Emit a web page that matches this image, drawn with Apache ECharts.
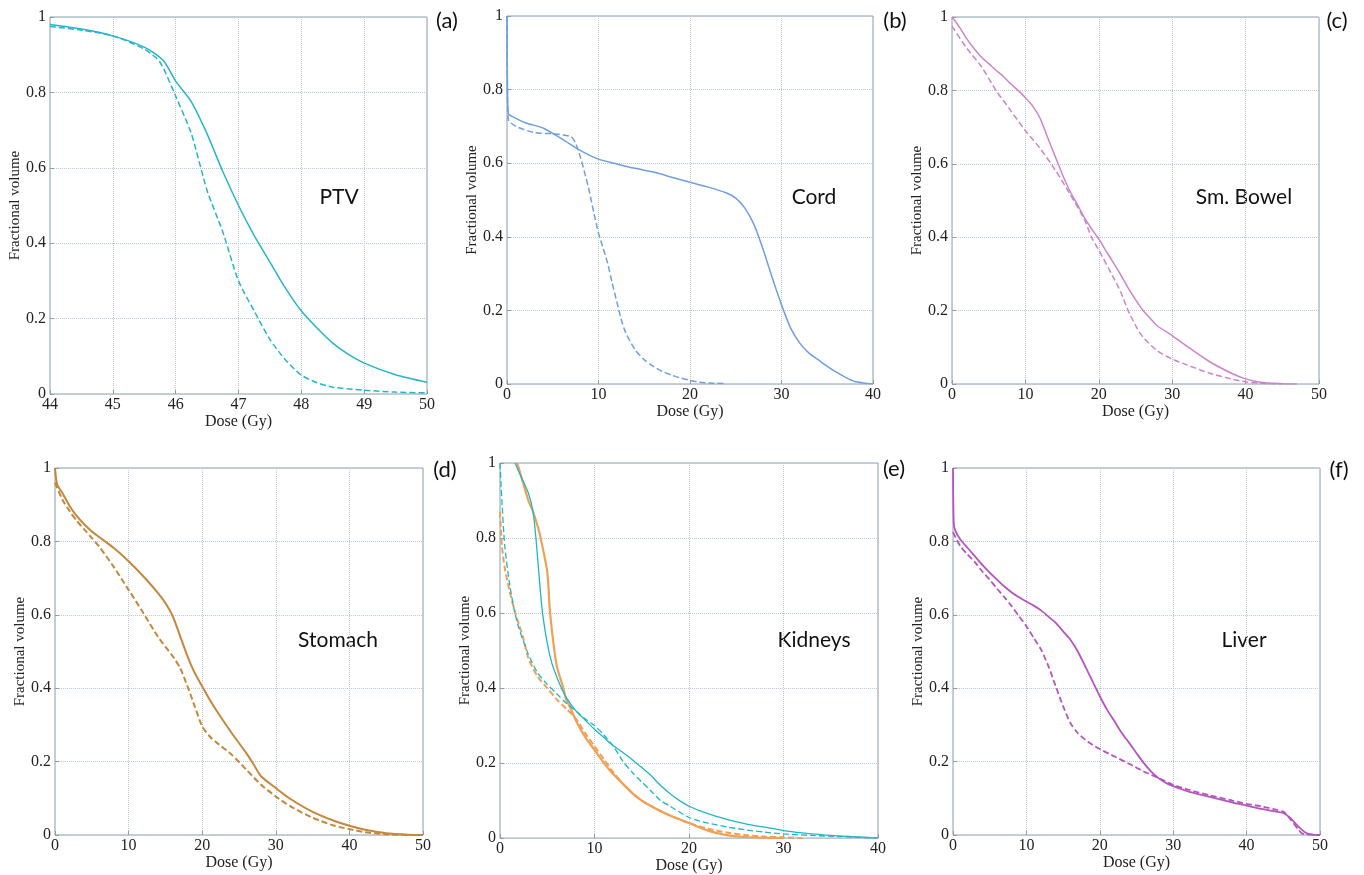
<!DOCTYPE html>
<html>
<head>
<meta charset="utf-8">
<script src="https://cdn.jsdelivr.net/npm/echarts@6/dist/echarts.min.js"></script>
<style>
html,body{margin:0;padding:0;background:#fff;}
#chart{width:1364px;height:875px;}
</style>
</head>
<body>
<div id="chart"></div>
<script>
// ---------------- DATA ----------------
// (a) PTV
var ptvSolidDose = [44, 44.5, 45, 45.5, 45.8, 46, 46.25, 46.5, 46.75, 47, 47.25, 47.5, 47.75, 48, 48.25, 48.5, 48.75, 49, 49.5, 50];
var ptvSolidVol  = [0.98, 0.968, 0.95, 0.92, 0.885, 0.83, 0.775, 0.69, 0.59, 0.50, 0.42, 0.35, 0.28, 0.22, 0.175, 0.135, 0.105, 0.082, 0.051, 0.031];
var ptvDashDose  = [44, 44.5, 45, 45.5, 45.75, 46, 46.25, 46.5, 46.75, 47, 47.25, 47.5, 47.75, 48, 48.25, 48.5, 49, 49.5, 50];
var ptvDashVol   = [0.975, 0.965, 0.95, 0.915, 0.88, 0.79, 0.69, 0.54, 0.43, 0.30, 0.22, 0.145, 0.09, 0.05, 0.03, 0.018, 0.01, 0.005, 0.003];

// (b) Cord
var cordSolidDose = [0, 0.05, 0.15, 0.5, 2, 4, 6, 8, 10, 12, 14, 16, 18, 20, 22, 24, 25, 26, 27, 28, 29, 30, 31, 32, 33, 34, 35, 36, 37, 38, 39, 40];
var cordSolidVol  = [1.0, 0.8, 0.735, 0.728, 0.71, 0.695, 0.666, 0.635, 0.611, 0.598, 0.586, 0.576, 0.562, 0.548, 0.535, 0.519, 0.505, 0.478, 0.433, 0.365, 0.288, 0.215, 0.152, 0.111, 0.084, 0.066, 0.048, 0.032, 0.018, 0.007, 0.003, 0.0];
var cordDashDose  = [0, 0.05, 0.15, 1, 3, 5, 7, 7.5, 8, 8.5, 9, 9.5, 10, 10.5, 11, 11.5, 12, 12.5, 13, 14, 15, 16, 17, 18, 19, 20, 21, 22, 24];
var cordDashVol   = [1.0, 0.78, 0.718, 0.70, 0.683, 0.68, 0.672, 0.654, 0.618, 0.573, 0.523, 0.464, 0.41, 0.37, 0.328, 0.274, 0.224, 0.174, 0.138, 0.093, 0.066, 0.048, 0.034, 0.024, 0.016, 0.01, 0.005, 0.003, 0.001];

// (c) Sm. Bowel
var bowelSolidDose = [0, 1, 2, 3, 4, 5, 6, 7, 8, 9, 10, 11, 12, 13, 14, 15, 16, 17, 18, 19, 20, 21, 22, 23, 24, 25, 26, 27, 28, 30, 32, 35, 38, 40, 42, 45, 47];
var bowelSolidVol  = [1.0, 0.973, 0.941, 0.914, 0.891, 0.873, 0.855, 0.838, 0.818, 0.80, 0.78, 0.757, 0.724, 0.673, 0.623, 0.573, 0.528, 0.492, 0.455, 0.423, 0.395, 0.362, 0.33, 0.297, 0.262, 0.23, 0.201, 0.179, 0.158, 0.132, 0.103, 0.062, 0.03, 0.014, 0.005, 0.001, 0.0];
var bowelDashDose  = [0, 2, 4, 6, 8, 10, 12, 14, 16, 18, 19, 20, 22, 23, 24, 25, 26, 28, 30, 32, 35, 38, 40, 42, 45];
var bowelDashVol   = [0.975, 0.915, 0.865, 0.80, 0.745, 0.69, 0.642, 0.585, 0.52, 0.45, 0.40, 0.365, 0.29, 0.25, 0.20, 0.16, 0.128, 0.09, 0.068, 0.052, 0.03, 0.014, 0.006, 0.002, 0.0];

// (d) Stomach
var stomachSolidDose = [0, 0.3, 1, 2, 3, 4, 5, 6, 8, 10, 12, 14, 15, 16, 17, 18, 19, 20, 21, 22, 24, 26, 27, 28, 30, 32, 35, 38, 40, 42, 45, 48, 50];
var stomachSolidVol  = [1.0, 0.955, 0.932, 0.896, 0.868, 0.846, 0.827, 0.812, 0.782, 0.746, 0.705, 0.659, 0.632, 0.596, 0.542, 0.487, 0.441, 0.405, 0.369, 0.337, 0.278, 0.223, 0.192, 0.16, 0.128, 0.098, 0.063, 0.038, 0.025, 0.015, 0.005, 0.001, 0.0];
var stomachDashDose  = [0, 1, 2, 3, 4, 5, 6, 8, 10, 12, 14, 16, 17, 18, 19, 20, 21, 22, 24, 26, 28, 30, 32, 35, 38, 40, 42, 45, 48];
var stomachDashVol   = [0.96, 0.914, 0.882, 0.855, 0.832, 0.809, 0.786, 0.73, 0.668, 0.605, 0.54, 0.487, 0.455, 0.405, 0.35, 0.296, 0.269, 0.251, 0.219, 0.178, 0.137, 0.105, 0.078, 0.047, 0.025, 0.016, 0.008, 0.002, 0.0];

// (e) Kidneys
var kidOrangeSolidDose = [1.8, 2, 3, 3.5, 4, 4.3, 5, 5.3, 6, 6.7, 7, 7.5, 8, 9, 10, 11, 12, 13, 14, 15, 16, 18, 20, 22, 24, 26, 28, 30];
var kidOrangeSolidVol  = [1.0, 0.985, 0.90, 0.87, 0.83, 0.80, 0.71, 0.60, 0.46, 0.40, 0.37, 0.345, 0.315, 0.27, 0.235, 0.20, 0.17, 0.145, 0.12, 0.10, 0.085, 0.06, 0.04, 0.02, 0.008, 0.003, 0.001, 0.0];
var kidOrangeDashDose  = [0, 0.2, 0.5, 1, 1.5, 2, 2.5, 3, 4, 5, 6, 7, 8, 9, 10, 11, 12, 13, 14, 15, 16, 18, 20, 22, 24, 26, 28, 30, 32];
var kidOrangeDashVol   = [0.87, 0.78, 0.72, 0.66, 0.61, 0.57, 0.53, 0.48, 0.43, 0.40, 0.37, 0.345, 0.32, 0.28, 0.245, 0.21, 0.175, 0.145, 0.12, 0.10, 0.085, 0.06, 0.04, 0.025, 0.015, 0.008, 0.004, 0.002, 0.0];
var kidCyanSolidDose   = [1.6, 2, 3, 3.5, 3.8, 4, 4.3, 4.5, 5, 5.5, 6, 6.5, 7, 8, 9, 10, 11, 12, 13, 14, 15, 16, 17, 18, 19, 20, 22, 24, 26, 28, 30, 32, 35, 38, 40];
var kidCyanSolidVol    = [1.0, 0.976, 0.92, 0.87, 0.80, 0.74, 0.65, 0.60, 0.52, 0.465, 0.43, 0.40, 0.375, 0.34, 0.315, 0.29, 0.268, 0.246, 0.228, 0.209, 0.188, 0.166, 0.14, 0.118, 0.10, 0.085, 0.065, 0.05, 0.038, 0.029, 0.02, 0.014, 0.007, 0.003, 0.0];
var kidCyanDashDose    = [0, 0.2, 0.5, 1, 1.5, 2, 3, 4, 5, 6, 7, 8, 9, 10, 11, 12, 13, 14, 15, 16, 17, 18, 20, 22, 24, 26, 28, 30, 33, 36, 40];
var kidCyanDashVol     = [1.0, 0.9, 0.78, 0.68, 0.61, 0.56, 0.49, 0.44, 0.41, 0.385, 0.36, 0.34, 0.318, 0.30, 0.275, 0.245, 0.205, 0.175, 0.15, 0.125, 0.10, 0.085, 0.055, 0.04, 0.03, 0.022, 0.016, 0.011, 0.007, 0.004, 0.0];

// (f) Liver
var liverSolidDose = [0, 0.1, 0.3, 1, 2, 3, 4, 5, 6, 7, 8, 9, 10, 11, 12, 13, 14, 15, 16, 17, 18, 19, 20, 21, 22, 23, 24, 25, 26, 27, 28, 29, 30, 32, 35, 38, 40, 42, 44, 45, 46, 47, 48, 49, 50];
var liverSolidVol  = [1.0, 0.85, 0.83, 0.805, 0.782, 0.759, 0.736, 0.715, 0.696, 0.677, 0.661, 0.648, 0.636, 0.625, 0.612, 0.595, 0.578, 0.555, 0.532, 0.50, 0.46, 0.419, 0.378, 0.341, 0.31, 0.278, 0.251, 0.223, 0.196, 0.173, 0.155, 0.142, 0.133, 0.119, 0.104, 0.089, 0.08, 0.071, 0.064, 0.06, 0.046, 0.024, 0.007, 0.001, 0.0];
var liverDashDose  = [0, 1, 2, 3, 4, 5, 6, 7, 8, 9, 10, 11, 12, 13, 14, 15, 16, 17, 18, 19, 20, 22, 24, 26, 28, 30, 32, 35, 38, 40, 42, 44, 45, 46, 47, 47.5, 48, 50];
var liverDashVol   = [0.825, 0.787, 0.764, 0.743, 0.718, 0.696, 0.671, 0.648, 0.623, 0.596, 0.569, 0.537, 0.505, 0.46, 0.405, 0.351, 0.305, 0.278, 0.26, 0.246, 0.234, 0.214, 0.194, 0.173, 0.155, 0.137, 0.124, 0.108, 0.094, 0.085, 0.078, 0.069, 0.064, 0.042, 0.016, 0.005, 0.002, 0.0];

// axis tick values
var yTicks = [0, 0.2, 0.4, 0.6, 0.8, 1];
var panelLetters = ['(a)', '(b)', '(c)', '(d)', '(e)', '(f)'];
var organNames = ['PTV', 'Cord', 'Sm. Bowel', 'Stomach', 'Kidneys', 'Liver'];
var xRanges = [[44, 50, 1], [0, 40, 10], [0, 50, 10], [0, 50, 10], [0, 40, 10], [0, 50, 10]];

// ---------------- LAYOUT / STYLE ----------------
function zip(xs, ys) { return xs.map(function (x, i) { return [x, ys[i]]; }); }

var grids = [
  {left: 50, top: 17, width: 377, height: 377},
  {left: 507, top: 16, width: 366, height: 368},
  {left: 952, top: 17, width: 367, height: 367},
  {left: 55, top: 468, width: 368, height: 367},
  {left: 500, top: 463, width: 378, height: 376},
  {left: 953, top: 468, width: 367, height: 367}
];
var letterPos = [[447, 21], [895, 21], [1337, 21], [445, 470], [894, 469], [1339, 470]];
var organPos  = [[339, 197], [814, 197], [1244, 197], [338, 640], [814, 640], [1244, 640]];

var frameColor = '#8a9ea8';
var gridColor = '#b9cad4';
var serif = '"Liberation Serif","DejaVu Serif",serif';
var sans = 'Lato,"Open Sans",sans-serif';

var C_PTV = '#26b4cc', C_CORD = '#6f9fdf', C_BOWEL = '#cc84cc', C_STOM = '#c4883c',
    C_KOR = '#f0a055', C_KCY = '#1fb6c6', C_LIV = '#b455bf';

var gridOpts = grids.map(function (g) {
  return Object.assign({show: true, borderColor: frameColor, borderWidth: 1, backgroundColor: 'transparent', containLabel: false}, g);
});

var xAxes = xRanges.map(function (r, i) {
  return {
    type: 'value', gridIndex: i, min: r[0], max: r[1], interval: r[2],
    name: 'Dose (Gy)', nameLocation: 'middle', nameGap: 19,
    nameTextStyle: {fontFamily: serif, fontSize: 16, color: '#222'},
    axisLine: {show: false},
    axisTick: {show: true, inside: true, length: 4, lineStyle: {color: frameColor}},
    axisLabel: {fontFamily: serif, fontSize: 16, color: '#222', margin: 3},
    splitLine: {show: true, lineStyle: {type: 'dotted', color: gridColor, width: 1}}
  };
});
var yAxes = xRanges.map(function (r, i) {
  return {
    type: 'value', gridIndex: i, min: yTicks[0], max: yTicks[yTicks.length - 1], interval: 0.2,
    name: 'Fractional volume', nameLocation: 'middle', nameGap: 26,
    nameTextStyle: {fontFamily: serif, fontSize: 15, color: '#222'},
    axisLine: {show: false},
    axisTick: {show: true, inside: true, length: 4, lineStyle: {color: frameColor}},
    axisLabel: {fontFamily: serif, fontSize: 16, color: '#222', margin: 4},
    splitLine: {show: true, lineStyle: {type: 'dotted', color: gridColor, width: 1}}
  };
});

function line(idx, xs, ys, color, dashed, width) {
  return {
    type: 'line', xAxisIndex: idx, yAxisIndex: idx, data: zip(xs, ys),
    showSymbol: false, symbol: 'none', smooth: 0.25,
    clip: true, silent: true, animation: false,
    lineStyle: {color: color, width: width || 1.5, type: dashed ? [6, 3] : 'solid'}
  };
}

var series = [
  line(0, ptvSolidDose, ptvSolidVol, C_PTV, false),
  line(0, ptvDashDose, ptvDashVol, C_PTV, true),
  line(1, cordSolidDose, cordSolidVol, C_CORD, false),
  line(1, cordDashDose, cordDashVol, C_CORD, true),
  line(2, bowelSolidDose, bowelSolidVol, C_BOWEL, false),
  line(2, bowelDashDose, bowelDashVol, C_BOWEL, true),
  line(3, stomachSolidDose, stomachSolidVol, C_STOM, false, 2),
  line(3, stomachDashDose, stomachDashVol, C_STOM, true, 2),
  line(4, kidOrangeDashDose, kidOrangeDashVol, C_KOR, true, 2),
  line(4, kidOrangeSolidDose, kidOrangeSolidVol, C_KOR, false, 2.2),
  line(4, kidCyanDashDose, kidCyanDashVol, C_KCY, true, 1.3),
  line(4, kidCyanSolidDose, kidCyanSolidVol, C_KCY, false, 1.3),
  line(5, liverSolidDose, liverSolidVol, C_LIV, false, 1.8),
  line(5, liverDashDose, liverDashVol, C_LIV, true, 1.8)
];

var graphics = [];
panelLetters.forEach(function (t, i) {
  graphics.push({type: 'text', x: letterPos[i][0], y: letterPos[i][1], silent: true,
    style: {text: t, fontFamily: sans, fontSize: 22, fill: '#111', align: 'center', verticalAlign: 'middle'}});
});
organNames.forEach(function (t, i) {
  graphics.push({type: 'text', x: organPos[i][0], y: organPos[i][1], silent: true,
    style: {text: t, fontFamily: sans, fontSize: 21, fill: '#111', align: 'center', verticalAlign: 'middle'}});
});

var chart = echarts.init(document.getElementById('chart'), null, {renderer: 'canvas'});
chart.setOption({
  backgroundColor: '#ffffff',
  animation: false,
  grid: gridOpts,
  xAxis: xAxes,
  yAxis: yAxes,
  series: series,
  graphic: graphics
});
</script>
</body>
</html>
